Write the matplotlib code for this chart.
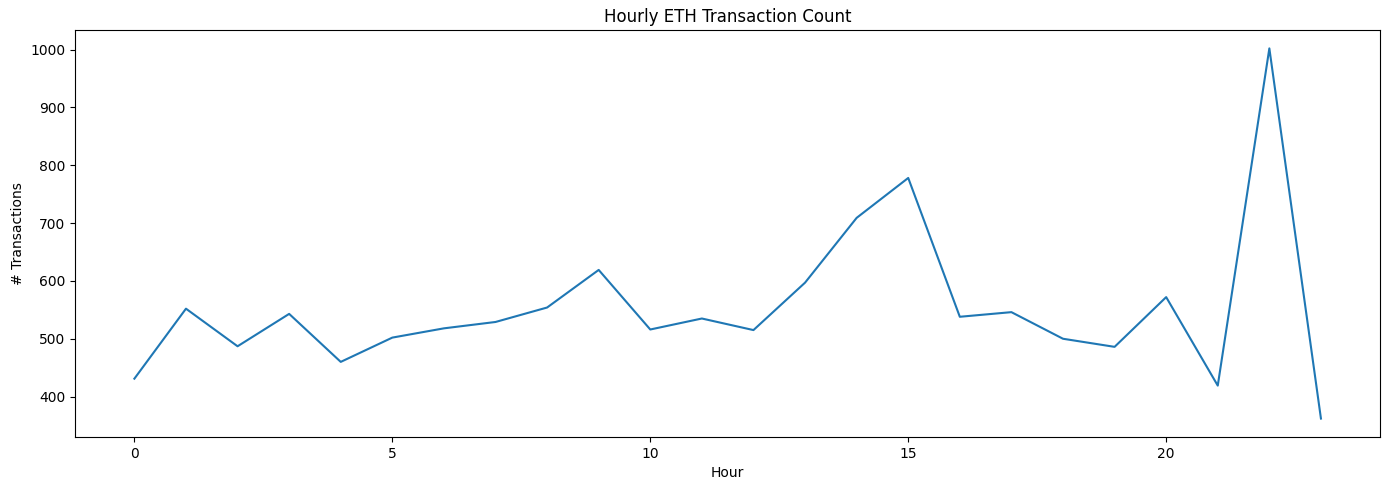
import matplotlib
matplotlib.use("Agg")
import matplotlib.pyplot as plt

hours = list(range(24))
counts = [431, 552, 487, 543, 460, 502, 518, 529, 554, 619, 516, 535, 515, 597,
          709, 778, 538, 546, 500, 486, 572, 419, 1002, 362]

fig, ax = plt.subplots(figsize=(13.9, 4.9), dpi=100)
ax.plot(hours, counts, color="#1f77b4")
ax.set_title("Hourly ETH Transaction Count")
ax.set_xlabel("Hour")
ax.set_ylabel("# Transactions")
fig.subplots_adjust(left=0.054, right=0.993, top=0.939, bottom=0.108)
fig.savefig("out.png")
